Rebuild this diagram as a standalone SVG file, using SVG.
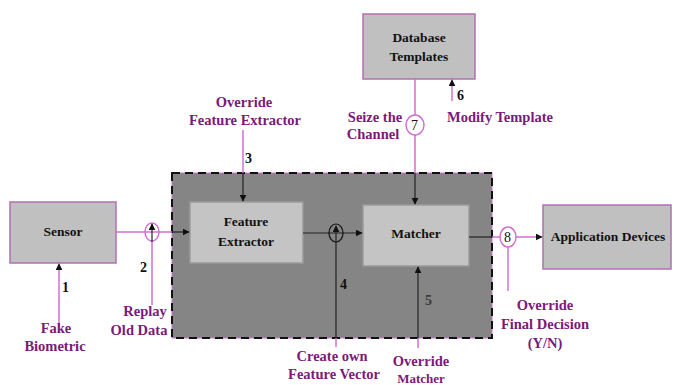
<svg xmlns="http://www.w3.org/2000/svg" width="675" height="385" viewBox="0 0 675 385">
<defs>
<style>
.box{fill:#c0c0c0;stroke:#b070b0;stroke-width:1.5}
.inner{fill:#c4c4c4;stroke:#9a9a9a;stroke-width:1.5}
.nt{font-size:13.5px;fill:#111;text-anchor:middle}
.lt{font-size:14.5px;fill:#7a1a7a;text-anchor:middle}
.mg{stroke:#d070d0;stroke-width:1.5;fill:none}
.bk{stroke:#222;stroke-width:1.2;fill:none}
.num{font-size:14px;fill:#111}
</style>
<marker id="ah" viewBox="0 0 10 10" refX="9" refY="5" markerWidth="7" markerHeight="7" orient="auto" markerUnits="userSpaceOnUse"><path d="M0,0 L10,5 L0,10 z" fill="#111"/></marker>
</defs>
<rect width="675" height="385" fill="#fff"/>
<g id="system">
<rect x="172" y="173" width="320" height="165" fill="#858585" stroke="#d070d0" stroke-width="1"/>
<rect x="172" y="173" width="320" height="165" fill="none" stroke="#111" stroke-width="2" stroke-dasharray="8,5"/>
</g>
<g id="sensor"><rect class="box" x="10" y="202" width="106" height="61"/><text class="nt" font-family="Liberation Serif" font-weight="bold" x="63" y="236">Sensor</text></g>
<g id="feature-extractor"><rect class="inner" x="190" y="202" width="113" height="61"/><text class="nt" font-family="Liberation Serif" font-weight="bold" x="246" y="226">Feature</text><text class="nt" font-family="Liberation Serif" font-weight="bold" x="246" y="246">Extractor</text></g>
<g id="matcher"><rect class="inner" x="363" y="205" width="106" height="61"/><text class="nt" font-family="Liberation Serif" font-weight="bold" x="416" y="238">Matcher</text></g>
<g id="database"><rect class="box" x="363" y="14" width="112" height="65"/><text class="nt" font-family="Liberation Serif" font-weight="bold" x="419" y="42">Database</text><text class="nt" font-family="Liberation Serif" font-weight="bold" x="419" y="61">Templates</text></g>
<g id="application"><rect class="box" x="543" y="205" width="128" height="64"/><text class="nt" font-family="Liberation Serif" font-weight="bold" x="608" y="241">Application Devices</text></g>
<g id="connectors">
<path class="mg" d="M116,232 H172"/>
<path class="bk" d="M172,232 H189" marker-end="url(#ah)"/>
<ellipse class="mg" cx="152" cy="232" rx="7" ry="9"/>
<path class="mg" d="M152,305 V240"/>
<path class="bk" d="M152,242 V224" marker-end="url(#ah)"/>
<path class="mg" d="M59,330 V264" marker-end="url(#ah)"/>
<path class="mg" d="M243,130 V173"/>
<path class="bk" d="M243,173 V201" marker-end="url(#ah)"/>
<path class="bk" d="M303,233 H362" marker-end="url(#ah)"/>
<ellipse cx="336" cy="233" rx="7" ry="9" fill="none" stroke="#111" stroke-width="1.2"/>
<path class="bk" d="M336,338 V242"/>
<path class="bk" d="M336,242 V226" marker-end="url(#ah)"/>
<path class="mg" d="M336,338 V347"/>
<path class="mg" d="M418,348 V338"/>
<path class="bk" d="M418,338 V267" marker-end="url(#ah)"/>
<path class="mg" d="M415,79 V173"/>
<path class="bk" d="M415,173 V204" marker-end="url(#ah)"/>
<ellipse cx="415" cy="125" rx="9" ry="10" fill="#fff" stroke="#d070d0" stroke-width="1.5"/>
<path class="mg" d="M452,101 V80" marker-end="url(#ah)"/>
<path class="bk" d="M469,237 H492"/>
<path class="mg" d="M492,237 H542" marker-end="url(#ah)"/>
<ellipse cx="508" cy="237" rx="8" ry="10" fill="#fff" stroke="#d070d0" stroke-width="1.5"/>
<path class="mg" d="M508,247 V291"/>
</g>
<g id="labels">
<text class="num" font-family="Liberation Serif" font-weight="bold" x="62" y="292">1</text>
<text class="num" font-family="Liberation Serif" font-weight="bold" x="140" y="272">2</text>
<text class="num" font-family="Liberation Serif" font-weight="bold" x="245" y="163">3</text>
<text class="num" font-family="Liberation Serif" font-weight="bold" x="340" y="289">4</text>
<text class="num" font-family="Liberation Serif" font-weight="bold" x="425" y="305" style="fill:#3a3a3a">5</text>
<text class="num" font-family="Liberation Serif" font-weight="bold" x="457" y="100">6</text>
<text class="num" font-family="Liberation Serif" x="411" y="130">7</text>
<text class="num" font-family="Liberation Serif" x="504" y="242">8</text>
<text class="lt" font-family="Liberation Serif" font-weight="bold" x="56" y="333">Fake</text>
<text class="lt" font-family="Liberation Serif" font-weight="bold" x="55" y="351">Biometric</text>
<text class="lt" font-family="Liberation Serif" font-weight="bold" x="145" y="316">Replay</text>
<text class="lt" font-family="Liberation Serif" font-weight="bold" x="139" y="335">Old Data</text>
<text class="lt" font-family="Liberation Serif" font-weight="bold" x="244" y="107">Override</text>
<text class="lt" font-family="Liberation Serif" font-weight="bold" x="245" y="125">Feature Extractor</text>
<text class="lt" font-family="Liberation Serif" font-weight="bold" x="375" y="122">Seize the</text>
<text class="lt" font-family="Liberation Serif" font-weight="bold" x="373" y="139">Channel</text>
<text class="lt" font-family="Liberation Serif" font-weight="bold" x="500" y="122">Modify Template</text>
<text class="lt" font-family="Liberation Serif" font-weight="bold" x="332" y="361">Create own</text>
<text class="lt" font-family="Liberation Serif" font-weight="bold" x="334" y="379">Feature Vector</text>
<text class="lt" font-family="Liberation Serif" font-weight="bold" x="421" y="366">Override</text>
<text class="lt" font-family="Liberation Serif" font-weight="bold" x="421" y="383" style="font-size:13px">Matcher</text>
<text class="lt" font-family="Liberation Serif" font-weight="bold" x="545" y="310">Override</text>
<text class="lt" font-family="Liberation Serif" font-weight="bold" x="545" y="329">Final Decision</text>
<text class="lt" font-family="Liberation Serif" font-weight="bold" x="545" y="348">(Y/N)</text>
</g>
</svg>
